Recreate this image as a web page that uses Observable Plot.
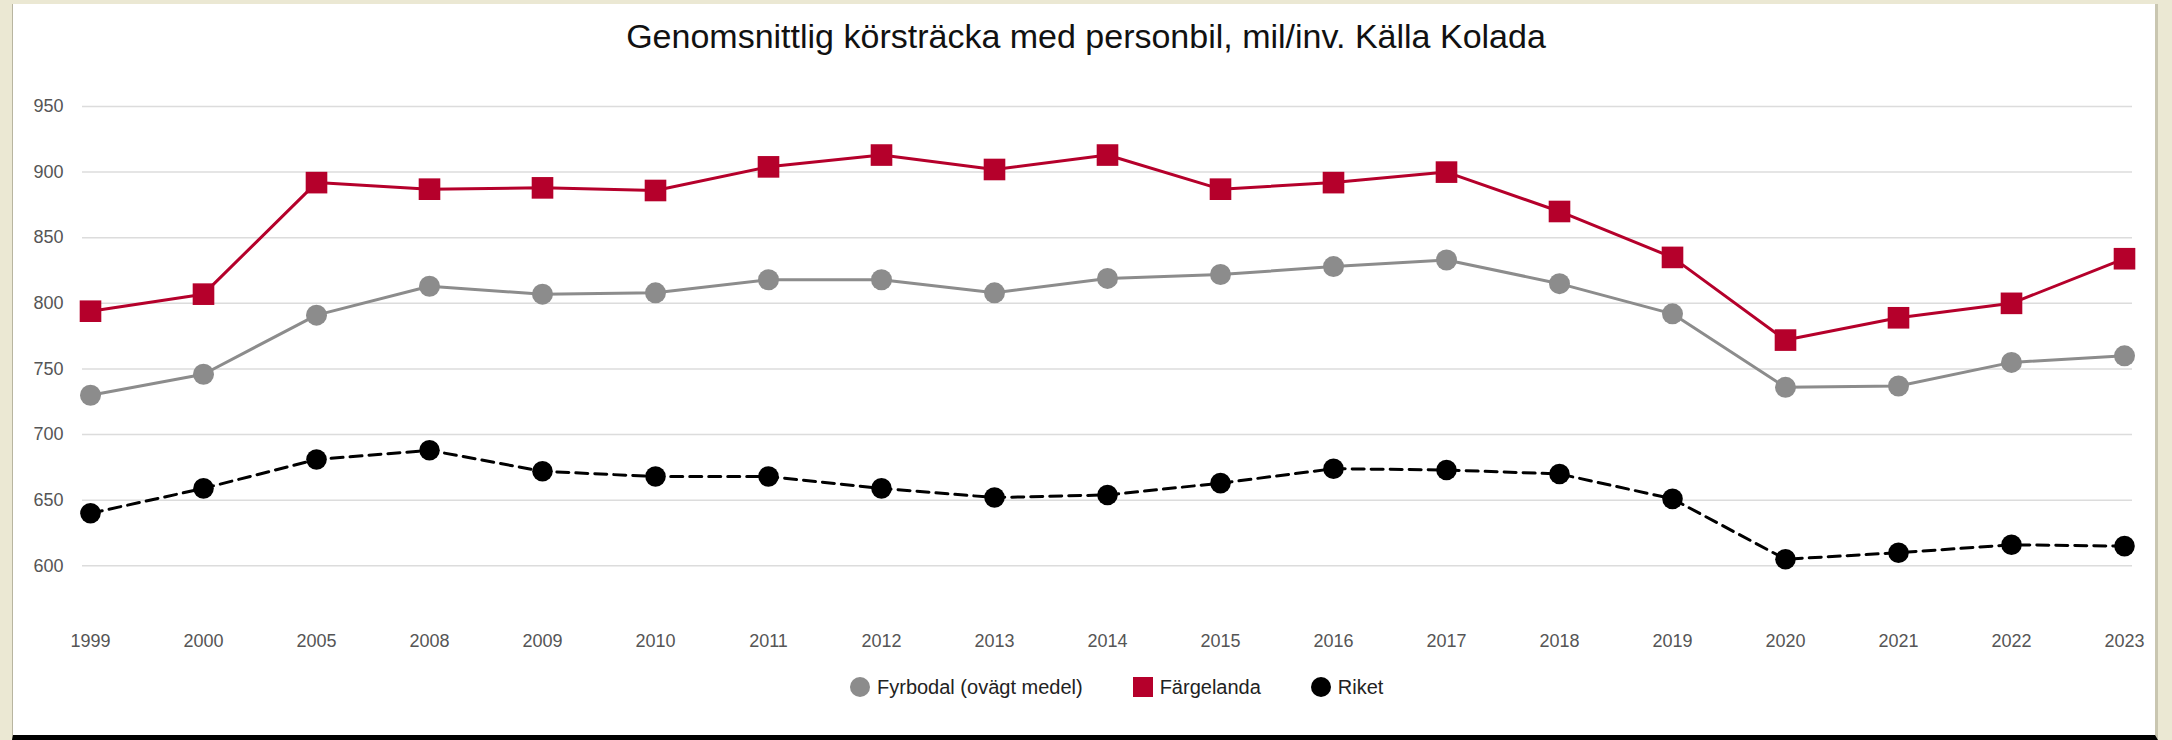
<!DOCTYPE html>
<html><head><meta charset="utf-8">
<script src="https://cdn.jsdelivr.net/npm/d3@7"></script>
<script src="https://cdn.jsdelivr.net/npm/@observablehq/plot@0.6"></script>
<style>
html{overflow:hidden;margin:0;padding:0;}
body{margin:0;background:#ebe8d3;width:2172px;height:740px;overflow:hidden;position:relative;font-family:"Liberation Sans",Arial,sans-serif;}
#panel{position:absolute;left:12px;top:4px;width:2142px;height:731px;background:#fff;border-left:1px solid #b8b5a0;border-right:3px solid #c9c6b0;border-bottom:5px solid #000;}
#title{position:absolute;left:0;top:16.5px;width:2172px;text-align:center;font-size:34px;line-height:38px;color:#111;}
#chart{position:absolute;left:0;top:60px;width:2172px;}
#chart svg{max-width:none;}
#legend{position:absolute;left:850px;top:677px;height:20px;display:flex;align-items:center;font-size:20px;color:#222;}
.item{display:flex;align-items:center;margin-right:50px;}
.mk{width:20px;height:20px;margin-right:7px;}
</style></head>
<body>
<div id="panel"></div>
<div id="title">Genomsnittlig körsträcka med personbil, mil/inv. Källa Kolada</div>
<div id="chart"></div>
<div id="legend"></div>
<script>
const years = ["1999","2000","2005","2008","2009","2010","2011","2012","2013","2014","2015","2016","2017","2018","2019","2020","2021","2022","2023"];
const fyrbodal = [730,746,791,813,807,808,818,818,808,819,822,828,833,815,792,736,737,755,760];
const fargelanda = [794,807,892,887,888,886,904,913,902,913,887,892,900,870,835,772,789,800,834];
const riket = [640,659,681,688,672,668,668,659,652,654,663,674,673,670,651,605,610,616,615];
const yTicks = [600,650,700,750,800,850,900,950];
const seriesNames = ["Fyrbodal (ovägt medel)","Färgelanda","Riket"];
const colors = ["#8c8c8c","#b5002b","#000000"];

const rows = (vals) => years.map((y,i)=>({year:y, value:vals[i]}));
const gray = rows(fyrbodal), red = rows(fargelanda), black = rows(riket);

const plot = Plot.plot({
  width: 2172, height: 600,
  marginLeft: 82, marginRight: 40, marginTop: 46, marginBottom: 94.7,
  x: {type:"point", domain: years, padding: 0, label: null},
  y: {domain:[600,950], label: null},
  style: {fontFamily:'"Liberation Sans",Arial,sans-serif', fontSize:"18px", color:"#555", background:"transparent", overflow:"visible"},
  marks: [
    Plot.gridY(yTicks, {stroke:"#dcdcdc", strokeOpacity:1, strokeWidth:1.5}),
    Plot.axisY(yTicks, {tickSize:0, tickPadding:19, label:null, fontSize:18}),
    Plot.axisX({tickSize:0, tickPadding:68, label:null, fontSize:18}),
    Plot.line(gray, {x:"year", y:"value", stroke:colors[0], strokeWidth:3}),
    Plot.line(red, {x:"year", y:"value", stroke:colors[1], strokeWidth:3}),
    Plot.line(black, {x:"year", y:"value", stroke:colors[2], strokeWidth:3, strokeDasharray:"12,7"}),
    Plot.dot(gray, {x:"year", y:"value", r:10.5, fill:colors[0]}),
    Plot.dot(red, {x:"year", y:"value", r:12.2, symbol:"square", fill:colors[1]}),
    Plot.dot(black, {x:"year", y:"value", r:10.3, fill:colors[2]})
  ]
});
document.getElementById("chart").appendChild(plot);

const leg = document.getElementById("legend");
seriesNames.forEach((n,i)=>{
  const it = document.createElement("div"); it.className="item";
  const m = document.createElement("div"); m.className="mk";
  m.style.background = colors[i];
  if (i !== 1) m.style.borderRadius = "50%";
  it.appendChild(m);
  const t = document.createElement("span"); t.textContent = n; it.appendChild(t);
  leg.appendChild(it);
});
</script>
</body></html>
